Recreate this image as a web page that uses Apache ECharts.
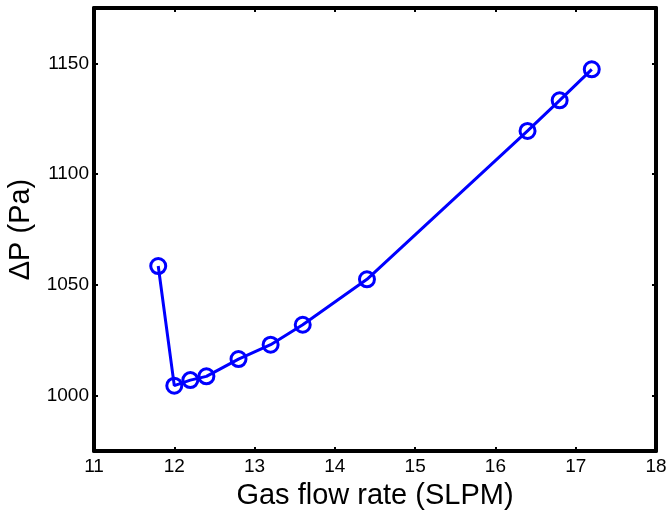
<!DOCTYPE html>
<html>
<head>
<meta charset="utf-8">
<script src="https://cdn.jsdelivr.net/npm/echarts@6/dist/echarts.min.js"></script>
<style>
html,body{margin:0;padding:0;background:#fff;}
#c{width:668px;height:512px;}
</style>
</head>
<body>
<div id="c"></div>
<script>
var flowRate = [11.8, 12.0, 12.2, 12.4, 12.8, 13.2, 13.6, 14.4, 16.4, 16.8, 17.2];
var deltaP   = [1058.5, 1004.5, 1007, 1008.7, 1016.5, 1023, 1032, 1052.5, 1119.5, 1133.3, 1147.3];
var yTicks = [1000, 1050, 1100, 1150];
var xTitle = 'Gas flow rate (SLPM)';
var yTitle = '\u0394P (Pa)';

var chart = echarts.init(document.getElementById('c'), null, {renderer: 'canvas'});
var font = 'Liberation Sans, Arial, sans-serif';
var axisLineStyle = {color: '#000', width: 4};
var tick = {show: true, inside: true, length: 4, lineStyle: {color: '#000', width: 2}};
function plain(v) { return String(v); }
chart.setOption({
  animation: false,
  backgroundColor: '#fff',
  grid: {left: 94, right: 12, top: 8, bottom: 61, containLabel: false, outerBoundsMode: 'none'},
  xAxis: [{
    type: 'value', min: 11, max: 18, interval: 1, position: 'bottom',
    axisLine: {show: true, onZero: false, lineStyle: axisLineStyle},
    axisTick: tick,
    splitLine: {show: false},
    axisLabel: {fontSize: 19, color: '#000', fontFamily: font, margin: 6, formatter: plain},
    name: xTitle, nameLocation: 'middle', nameGap: 30,
    nameTextStyle: {fontSize: 29, color: '#000', fontFamily: font}
  }, {
    type: 'value', min: 11, max: 18, interval: 1, position: 'top',
    axisLine: {show: true, onZero: false, lineStyle: axisLineStyle},
    axisTick: tick, axisLabel: {show: false}, splitLine: {show: false}
  }],
  yAxis: [{
    type: 'value', min: 975, max: 1175, position: 'left',
    axisLine: {show: true, onZero: false, lineStyle: axisLineStyle},
    axisTick: {show: true, inside: true, length: 4, lineStyle: {color: '#000', width: 2}, customValues: yTicks},
    splitLine: {show: false},
    axisLabel: {fontSize: 19, color: '#000', fontFamily: font, margin: 5, customValues: yTicks, formatter: plain},
    name: yTitle, nameLocation: 'middle', nameGap: 58, nameRotate: 90,
    nameTextStyle: {fontSize: 29, color: '#000', fontFamily: font}
  }, {
    type: 'value', min: 975, max: 1175, position: 'right',
    axisLine: {show: true, onZero: false, lineStyle: axisLineStyle},
    axisTick: {show: true, inside: true, length: 4, lineStyle: {color: '#000', width: 2}, customValues: yTicks},
    axisLabel: {show: false}, splitLine: {show: false}
  }],
  series: [{
    type: 'line',
    xAxisIndex: 0, yAxisIndex: 0,
    data: flowRate.map(function (x, i) { return [x, deltaP[i]]; }),
    symbol: 'circle', symbolSize: 15,
    lineStyle: {color: '#0000ff', width: 3},
    itemStyle: {color: 'rgba(0,0,0,0)', borderColor: '#0000ff', borderWidth: 3},
    z: 3
  }]
});
</script>
</body>
</html>
